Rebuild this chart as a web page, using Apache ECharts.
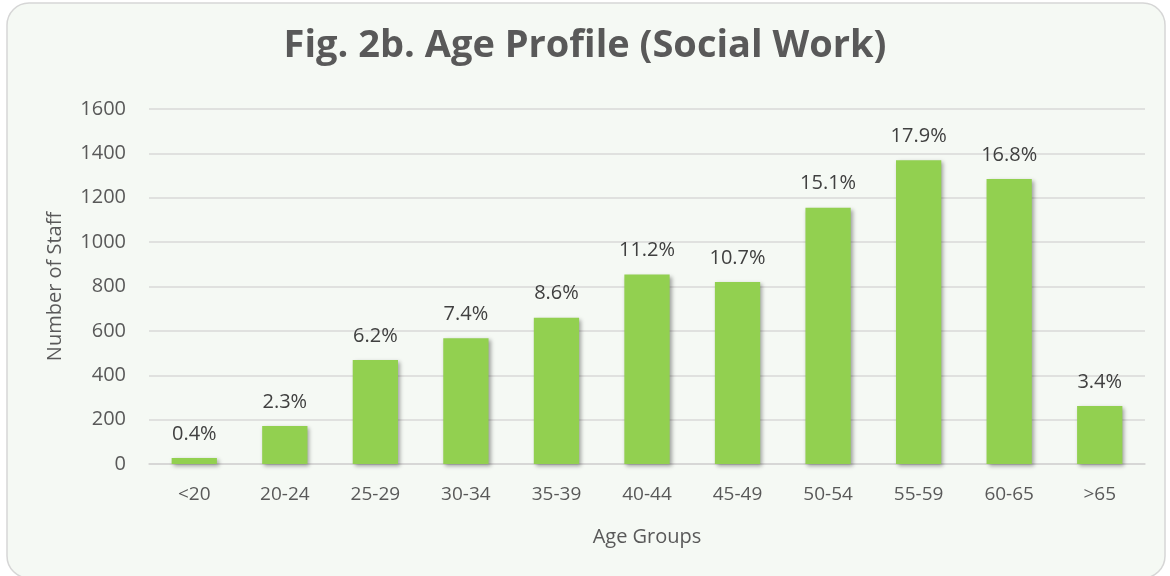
<!DOCTYPE html>
<html>
<head>
<meta charset="utf-8">
<script src="https://cdn.jsdelivr.net/npm/echarts@6/dist/echarts.min.js"></script>
<style>
  html, body { margin: 0; padding: 0; background: #ffffff; }
  #chart { width: 1170px; height: 576px; }
</style>
</head>
<body>
<div id="chart"></div>
<script>
const categories = ['<20', '20-24', '25-29', '30-34', '35-39', '40-44', '45-49', '50-54', '55-59', '60-65', '>65'];
const staffCounts = [27, 171, 469, 567, 659, 854, 820, 1155, 1369, 1284, 261];
const percentLabels = ['0.4%', '2.3%', '6.2%', '7.4%', '8.6%', '11.2%', '10.7%', '15.1%', '17.9%', '16.8%', '3.4%'];

const chart = echarts.init(document.getElementById('chart'));
const textColor = '#595959';
const font = "'Open Sans', sans-serif";

const option = {
  animation: false,
  graphic: [
    {
      type: 'rect',
      z: -10,
      shape: { x: 7, y: 3, width: 1158, height: 575, r: 22 },
      style: { fill: '#F5F9F4', stroke: '#D6D6D6', lineWidth: 1.5 }
    }
  ],
  title: {
    text: 'Fig. 2b. Age Profile (Social Work)',
    left: 'center',
    top: 22,
    textStyle: {
      fontFamily: font,
      fontSize: 38,
      fontWeight: 'bold',
      color: textColor
    }
  },
  grid: {
    left: 149,
    right: 25,
    top: 109,
    bottom: 112
  },
  xAxis: {
    type: 'category',
    data: categories,
    name: 'Age Groups',
    nameLocation: 'middle',
    nameGap: 63,
    nameTextStyle: { fontFamily: font, fontSize: 20, color: textColor },
    axisLabel: { fontFamily: font, fontSize: 19, color: textColor, margin: 21 },
    axisTick: { show: false },
    axisLine: { lineStyle: { color: '#D4D4D4', width: 1.5 } }
  },
  yAxis: {
    type: 'value',
    min: 0,
    max: 1600,
    interval: 200,
    name: 'Number of Staff',
    nameLocation: 'middle',
    nameGap: 84,
    nameTextStyle: { fontFamily: font, fontSize: 20, color: textColor },
    axisLabel: {
      fontFamily: font,
      fontSize: 20,
      color: textColor,
      margin: 23,
      formatter: (v) => String(v)
    },
    axisLine: { show: false },
    axisTick: { show: false },
    splitLine: { lineStyle: { color: '#D9D9D9', width: 1.5 } }
  },
  series: [
    {
      type: 'bar',
      data: staffCounts,
      barWidth: '50%',
      itemStyle: {
        color: '#92D050',
        shadowColor: 'rgba(0,0,0,0.35)',
        shadowBlur: 4,
        shadowOffsetX: 2,
        shadowOffsetY: 2
      },
      label: {
        show: true,
        position: 'top',
        distance: 14,
        fontFamily: font,
        fontSize: 20,
        color: '#404040',
        formatter: (p) => percentLabels[p.dataIndex]
      }
    }
  ]
};

chart.setOption(option);
</script>
</body>
</html>
